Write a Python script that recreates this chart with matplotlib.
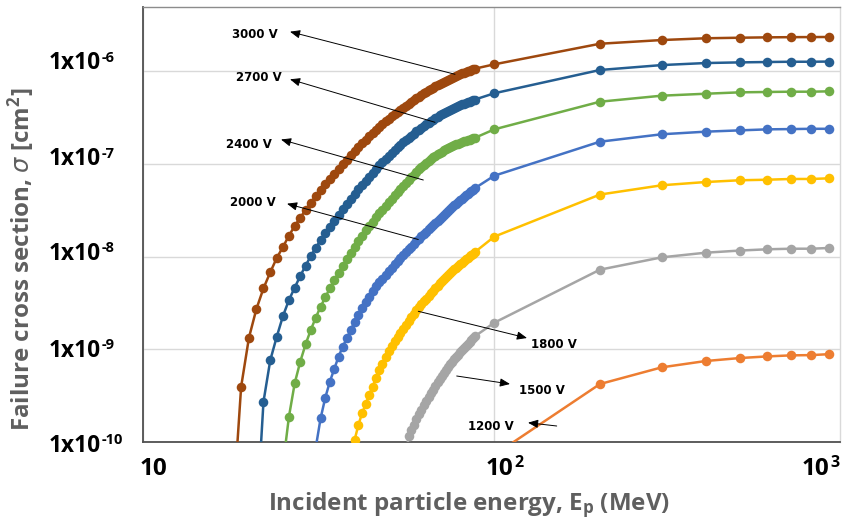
import numpy as np
import matplotlib
matplotlib.use("Agg")
import matplotlib.pyplot as plt
from matplotlib.patches import ArrowStyle
from matplotlib.ticker import NullLocator

W, H, DPI = 845, 524, 100
plt.rcParams["mathtext.fontset"] = "dejavusans"

# ---------------------------------------------------------------------------
# Data: proton energy (MeV) and log10 of failure cross section (cm^2)
# Fine scan in 1-MeV steps starting at scan_start, then coarse points.
# ---------------------------------------------------------------------------
coarse_energy = [100, 200, 300, 400, 500, 600, 700, 800, 900]

voltages = ["3000 V", "2700 V", "2400 V", "2000 V", "1800 V", "1500 V", "1200 V"]
colors = ["#9E480E", "#255E91", "#70AD47", "#4472C4", "#FFC000", "#A5A5A5", "#ED7D31"]
scan_start = [18, 21, 25, 31, 40, 56, None]

scan_3000 = [
    -10.75, -9.404, -8.875, -8.566, -8.343, -8.170, -8.016, -7.897, -7.775, -7.671,
    -7.581, -7.498, -7.420, -7.348, -7.283, -7.219, -7.161, -7.111, -7.057, -7.005,
    -6.955, -6.908, -6.863, -6.820, -6.779, -6.740, -6.703, -6.668, -6.634, -6.602,
    -6.572, -6.543, -6.516, -6.490, -6.465, -6.441, -6.418, -6.396, -6.374, -6.353,
    -6.333, -6.313, -6.294, -6.276, -6.258, -6.241, -6.224, -6.209, -6.194, -6.179,
    -6.165, -6.152, -6.139, -6.127, -6.115, -6.104, -6.093, -6.082, -6.072, -6.062,
    -6.052, -6.043, -6.034, -6.026, -6.018, -6.010, -6.003, -5.996, -5.989, -5.982,
    -5.975]
scan_2700 = [
    -10.87, -9.566, -9.119, -8.865, -8.642, -8.469, -8.336, -8.210, -8.099, -7.995,
    -7.905, -7.825, -7.750, -7.680, -7.614, -7.552, -7.493, -7.434, -7.380, -7.327,
    -7.277, -7.229, -7.183, -7.139, -7.097, -7.056, -7.017, -6.981, -6.947, -6.914,
    -6.883, -6.853, -6.824, -6.797, -6.770, -6.745, -6.720, -6.697, -6.674, -6.652,
    -6.631, -6.611, -6.592, -6.573, -6.556, -6.539, -6.523, -6.508, -6.493, -6.479,
    -6.465, -6.452, -6.440, -6.428, -6.417, -6.406, -6.396, -6.386, -6.377, -6.368,
    -6.359, -6.351, -6.343, -6.336, -6.329, -6.322, -6.315, -6.308]
scan_2400 = [
    -10.25, -9.727, -9.367, -9.134, -8.947, -8.792, -8.660, -8.541, -8.440, -8.343,
    -8.253, -8.175, -8.099, -8.032, -7.962, -7.898, -7.835, -7.774, -7.719, -7.670,
    -7.624, -7.579, -7.536, -7.495, -7.455, -7.416, -7.377, -7.341, -7.307, -7.274,
    -7.241, -7.209, -7.176, -7.147, -7.117, -7.088, -7.059, -7.034, -7.011, -6.990,
    -6.970, -6.951, -6.932, -6.915, -6.899, -6.884, -6.870, -6.857, -6.845, -6.833,
    -6.822, -6.811, -6.801, -6.791, -6.782, -6.773, -6.765, -6.758, -6.751, -6.745,
    -6.739, -6.733, -6.727, -6.721]
scan_2000 = [
    -10.06, -9.745, -9.522, -9.350, -9.213, -9.080, -8.973, -8.882, -8.792, -8.703,
    -8.631, -8.558, -8.494, -8.433, -8.372, -8.323, -8.278, -8.238, -8.199, -8.161,
    -8.124, -8.086, -8.050, -8.013, -7.982, -7.950, -7.921, -7.893, -7.864, -7.836,
    -7.808, -7.783, -7.757, -7.734, -7.707, -7.685, -7.663, -7.639, -7.616, -7.591,
    -7.571, -7.549, -7.530, -7.509, -7.489, -7.468, -7.450, -7.431, -7.412, -7.393,
    -7.376, -7.358, -7.341, -7.325, -7.309, -7.294, -7.279, -7.264]
scan_1800 = [
    -9.978, -9.817, -9.691, -9.594, -9.493, -9.404, -9.313, -9.227, -9.156, -9.087,
    -9.023, -8.967, -8.916, -8.868, -8.823, -8.777, -8.734, -8.693, -8.654, -8.617,
    -8.581, -8.547, -8.514, -8.482, -8.453, -8.422, -8.395, -8.369, -8.342, -8.317,
    -8.290, -8.267, -8.244, -8.223, -8.202, -8.180, -8.160, -8.140, -8.121, -8.102,
    -8.083, -8.065, -8.049, -8.030, -8.014, -7.998, -7.983, -7.968, -7.953]
scan_1500 = [
    -10.15, -9.935, -9.873, -9.812, -9.756, -9.702, -9.653, -9.603, -9.559, -9.513,
    -9.473, -9.434, -9.395, -9.358, -9.320, -9.287, -9.254, -9.224, -9.194, -9.163,
    -9.134, -9.108, -9.081, -9.057, -9.031, -9.007, -8.984, -8.962, -8.940, -8.918,
    -8.899, -8.880, -8.861]
scan_1200 = []

coarse_3000 = [-5.928, -5.706, -5.666, -5.647, -5.641, -5.637, -5.635, -5.634, -5.633]
coarse_2700 = [-6.240, -5.989, -5.936, -5.914, -5.907, -5.903, -5.900, -5.900, -5.898]
coarse_2400 = [-6.629, -6.331, -6.266, -6.245, -6.230, -6.226, -6.223, -6.223, -6.219]
coarse_2000 = [-7.129, -6.762, -6.682, -6.654, -6.640, -6.629, -6.626, -6.623, -6.623]
coarse_1800 = [-7.786, -7.332, -7.232, -7.197, -7.178, -7.172, -7.164, -7.164, -7.157]
coarse_1500 = [-8.714, -8.142, -8.009, -7.959, -7.936, -7.922, -7.916, -7.916, -7.908]
coarse_1200 = [-10.14, -9.375, -9.195, -9.127, -9.095, -9.077, -9.066, -9.063, -9.053]

scans = [scan_3000, scan_2700, scan_2400, scan_2000, scan_1800, scan_1500, scan_1200]
coarses = [coarse_3000, coarse_2700, coarse_2400, coarse_2000, coarse_1800,
           coarse_1500, coarse_1200]

y_tick_exponents = ["-6", "-7", "-8", "-9", "-10"]
x_tick_bases = ["10", "10", "10"]
x_tick_powers = ["", "2", "3"]

# ---------------------------------------------------------------------------
# Layout helpers (pixel positions measured from the top-left corner)
# ---------------------------------------------------------------------------
def fxy(x, y):
    return x / W, 1 - y / H


fig = plt.figure(figsize=(W / DPI, H / DPI), dpi=DPI, facecolor="white")
ax_left, ax_right, ax_top, ax_bottom = 143.3, 839.5, 7.0, 442.0
ax = fig.add_axes([ax_left / W, 1 - ax_bottom / H,
                   (ax_right - ax_left) / W, (ax_bottom - ax_top) / H])
ax.set_xscale("log")
ax.set_yscale("log")
ax.set_xlim(10, 963)
ax.set_ylim(1e-10, 4.9e-6)
ax.xaxis.set_minor_locator(NullLocator())
ax.yaxis.set_minor_locator(NullLocator())
ax.tick_params(which="both", length=0, labelbottom=False, labelleft=False)
ax.grid(True, which="major", color="#d9d9d9", lw=1.0)
ax.set_axisbelow(True)

ax.spines["left"].set_color("#505050")
ax.spines["bottom"].set_color("#505050")
ax.spines["left"].set_linewidth(1.3)
ax.spines["bottom"].set_linewidth(1.3)
ax.spines["top"].set_color("#8c8c8c")
ax.spines["top"].set_linewidth(1.0)
ax.spines["right"].set_color("#d9d9d9")
ax.spines["right"].set_linewidth(1.0)

for name, color, start, scan, coarse in zip(voltages, colors, scan_start, scans, coarses):
    if start is None:
        energy = list(coarse_energy)
        logs = list(coarse)
    else:
        energy = list(range(start, start + len(scan))) + coarse_energy
        logs = list(scan) + list(coarse)
    ax.plot(energy, 10.0 ** np.array(logs), "-o", color=color, lw=1.8,
            ms=6.9, mew=0, zorder=3, label=name)

# ---------------------------------------------------------------------------
# Tick labels drawn as text with raised exponents
# ---------------------------------------------------------------------------
renderer = fig.canvas.get_renderer()
tick_font = dict(family="Open Sans", weight="bold", color="black")

y_label_left = 49.0
y_label_baselines = [69.0, 165.0, 260.0, 356.7, 452.0]
for exp, base in zip(y_tick_exponents, y_label_baselines):
    t = fig.text(*fxy(y_label_left, base), "1x10", fontsize=16.3, ha="left",
                 va="baseline", **tick_font)
    bb = t.get_window_extent(renderer)
    fig.text((bb.x1 + 0.5) / W, (H - base + 7.5) / H, exp,
             fontsize=10.5, ha="left", va="baseline", **tick_font)

x_label_lefts = [140.0, 486.0, 801.7]
x_label_base = 475.0
for txt, pw, left in zip(x_tick_bases, x_tick_powers, x_label_lefts):
    t = fig.text(*fxy(left, x_label_base), txt, fontsize=17.5, ha="left",
                 va="baseline", **tick_font)
    if pw:
        bb = t.get_window_extent(renderer)
        fig.text((bb.x1 + 0.5) / W, (H - x_label_base + 8) / H, pw,
                 fontsize=11.5, ha="left", va="baseline", **tick_font)

# Axis titles
title_font = dict(family="Open Sans", weight="bold", color="#5f5f5f", fontsize=17.4)
fig.text(*fxy(469.5, 510), r"Incident particle energy, $\mathregular{E_p}$ (MeV)",
         ha="center", va="baseline", **title_font)
fig.text(*fxy(21.5, 259.5), r"Failure cross section, $\sigma$ [cm$\mathregular{^2}$]",
         ha="center", va="center", rotation=90, **title_font)

# ---------------------------------------------------------------------------
# Voltage call-outs with arrows
# ---------------------------------------------------------------------------
label_left_baseline = [(231.7, 38.0), (235.7, 81.0), (225.7, 148.0), (230.0, 206.5),
                       (531.0, 348.0), (519.3, 394.0), (467.7, 430.0)]
arrow_tail = [(455.0, 74.3), (435.0, 122.3), (423.3, 180.0), (418.3, 239.5),
              (418.3, 311.3), (456.7, 376.0), (556.7, 426.0)]
arrow_head = [(290.0, 31.7), (290.0, 79.3), (281.0, 139.5), (287.0, 203.7),
              (527.0, 338.0), (510.0, 384.0), (528.0, 422.7)]

head_style = ArrowStyle("-|>", head_length=0.6, head_width=0.25)
for name, (lx, lb), tail, head in zip(voltages, label_left_baseline, arrow_tail, arrow_head):
    fig.text(*fxy(lx, lb), name, family="DejaVu Sans", weight="bold", fontsize=8.5,
             ha="left", va="baseline", color="black", zorder=6)
    ax.annotate("", xy=fxy(*head), xycoords="figure fraction",
                xytext=fxy(*tail), textcoords="figure fraction",
                arrowprops=dict(arrowstyle=head_style, lw=0.7, color="black",
                                shrinkA=0, shrinkB=0, mutation_scale=10),
                zorder=6)

fig.savefig("out.png", dpi=DPI, facecolor="white")
